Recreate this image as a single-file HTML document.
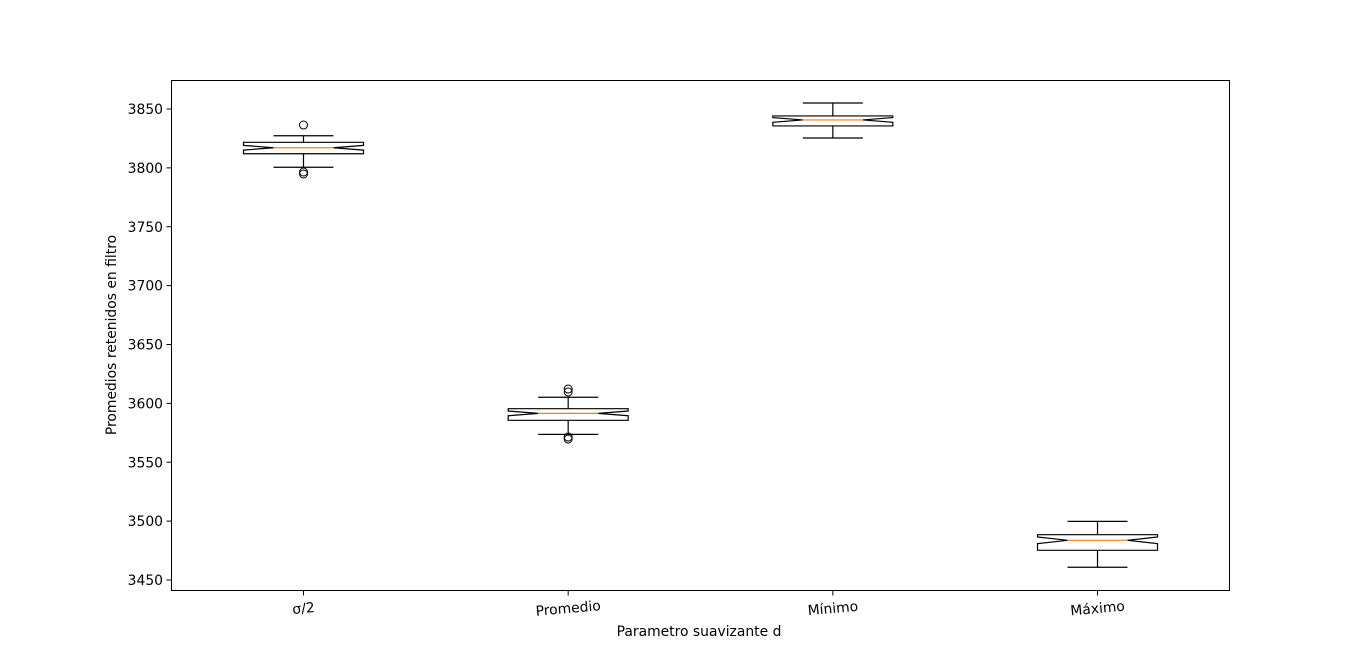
<!DOCTYPE html>
<html><head><meta charset="utf-8"><style>
html,body{margin:0;padding:0;background:#fff;}
svg{display:block;font-family:"DejaVu Sans","Liberation Sans",sans-serif;}
</style></head><body>
<svg id="chart" width="1366" height="663" viewBox="0 0 1366 663">
<rect x="0" y="0" width="1366" height="663" fill="#fff"/>
<g id="plot"></g>
<rect x="171.5" y="80.5" width="1058" height="510" fill="none" stroke="#000" stroke-width="1"/>
<g id="yticks"></g>
<g id="xticks"></g>
<text x="699" y="636" font-size="13.9" text-anchor="middle">Parametro suavizante d</text>
<text transform="translate(116,335) rotate(-90)" font-size="13.9" text-anchor="middle">Promedios retenidos en filtro</text>
</svg>
<script>
const categories = ["σ/2", "Promedio", "Mínimo", "Máximo"];
const q1 = [3812.0, 3585.6, 3835.6, 3475.2];
const q3 = [3821.7, 3595.5, 3844.1, 3488.5];
const medians = [3817.1, 3591.5, 3840.7, 3483.7];
const notchHalf = [2.0, 2.0, 2.0, 2.8];
const whiskerLo = [3800.5, 3573.7, 3825.4, 3460.8];
const whiskerHi = [3827.3, 3605.2, 3855.1, 3499.8];
const fliers = [[3836.4, 3796.5, 3794.8], [3612.2, 3609.7, 3571.4, 3569.7], [], []];
const yTicks = [3450, 3500, 3550, 3600, 3650, 3700, 3750, 3800, 3850];

const NS = "http://www.w3.org/2000/svg";
function y(v){ return 109 + (3850 - v) * (471/400); }
function x(i){ return 303.5 + i * 264.67; }
const boxW = 120, inset = 30, capW = 60;
function mk(tag, attrs, parent){ const e = document.createElementNS(NS, tag); for (const k in attrs) e.setAttribute(k, attrs[k]); parent.appendChild(e); return e; }

const plot = document.getElementById('plot');
categories.forEach((c, i) => {
  const cx = x(i), L = cx - boxW/2, R = cx + boxW/2;
  const g = mk('g', {}, plot);
  
  
  const nl = y(medians[i] - notchHalf[i]), nh = y(medians[i] + notchHalf[i]), m = y(medians[i]);
  const d = `M${L},${y(q1[i])} L${L},${nl} L${L+inset},${m} L${L},${nh} L${L},${y(q3[i])} L${R},${y(q3[i])} L${R},${nh} L${R-inset},${m} L${R},${nl} L${R},${y(q1[i])} Z`;
  const b = mk('path', {d: d, fill: 'none', stroke: '#000', 'stroke-width': 1.2}, g);
  
  
  const ln = (x1,y1,x2,y2,col,name) => { const l = mk('line', {x1,y1,x2,y2,stroke:col,'stroke-width':1.2}, g);   };
  ln(cx, y(q3[i]), cx, y(whiskerHi[i]), '#000', 'whisker-upper');
  ln(cx, y(q1[i]), cx, y(whiskerLo[i]), '#000', 'whisker-lower');
  ln(cx-capW/2, y(whiskerHi[i]), cx+capW/2, y(whiskerHi[i]), '#000', 'cap-upper');
  ln(cx-capW/2, y(whiskerLo[i]), cx+capW/2, y(whiskerLo[i]), '#000', 'cap-lower');
  ln(L+inset, m, R-inset, m, '#ff7f0e', 'median-line');
  fliers[i].forEach(v => {
    const f = mk('circle', {cx: cx, cy: y(v), r: 4, fill: 'none', stroke: '#000', 'stroke-width': 1}, g);
    
    
  });
});

const yt = document.getElementById('yticks');
yTicks.forEach(v => {
  const yy = y(v);
  const t = mk('line', {x1: 166.5, y1: yy, x2: 171.5, y2: yy, stroke: '#000'}, yt);
  
  
  const l = mk('text', {x: 163, y: yy + 5, 'font-size': 13.9, 'text-anchor': 'end'}, yt);
  l.textContent = v;
  
  
});
const xt = document.getElementById('xticks');
categories.forEach((c, i) => {
  const cx = x(i);
  const t = mk('line', {x1: cx, y1: 590.5, x2: cx, y2: 595.5, stroke: '#000'}, xt);
  
  
  const l = mk('text', {x: cx, y: 613, 'font-size': 13.9, 'text-anchor': 'middle', transform: `rotate(-5 ${cx} 608)`}, xt);
  l.textContent = c;
  
  
});
</script>
</body></html>
